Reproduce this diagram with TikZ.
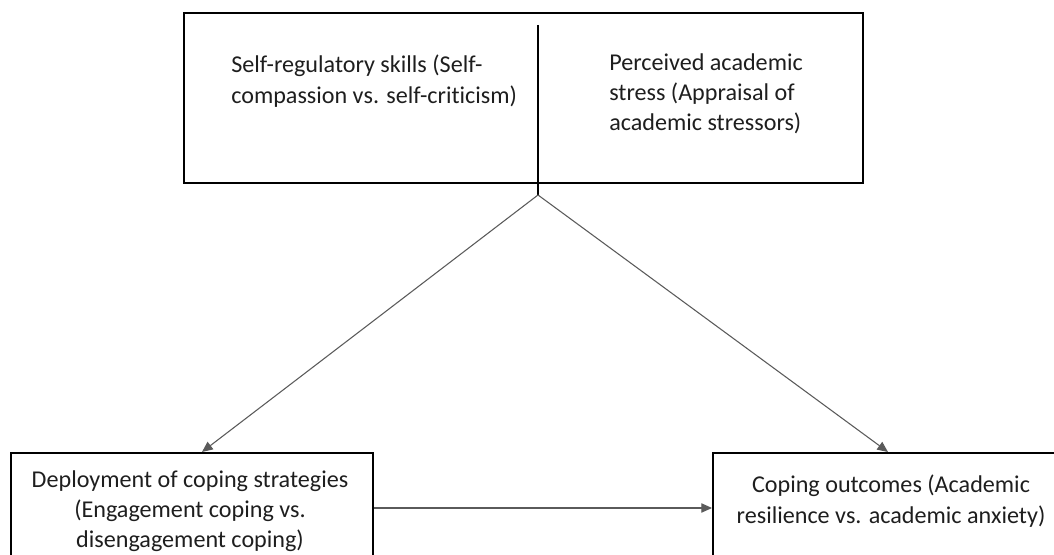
\documentclass[tikz,border=0pt]{standalone}
\usepackage{fontspec}
\setmainfont{Carlito}[Ligatures=NoCommon]
\usetikzlibrary{arrows.meta, positioning, calc}
\definecolor{boxline}{RGB}{0,0,0}
\definecolor{linkgray}{RGB}{90,90,90}
\definecolor{textgray}{RGB}{30,30,30}
\tikzset{
  % framed box (size set per node)
  modelbox/.style={rectangle, draw=boxline, line width=1.5pt, inner sep=0pt},
  boxtext/.style={font=\fontsize{18.1}{22.8}\selectfont, text=textgray, inner sep=0pt},
  linkarrow/.style={-{Triangle[length=8pt, width=7pt]}, line width=0.8pt, color=linkgray}
}

\begin{document}
\begin{tikzpicture}[x=0.75pt, y=-0.75pt]
  \useasboundingbox (0,0) rectangle (1054,555);
  \clip (0,0) rectangle (1054,555);

  % Top: the two predictors share one box
  \node[modelbox, minimum width=509.25pt, minimum height=127.5pt] (factors) at (523.5, 98) {};
  \coordinate (split) at (538, 25);
  \coordinate (apex) at (538, 195);
  \draw[line width=1.5pt, boxline] (split) -- (apex);

  \node[boxtext, anchor=north west, align=left] (selfreg) at (231, 55)
    {Self-regulatory skills (Self-\\compassion vs. self-criticism)};
  \node[boxtext, anchor=north west, align=left] (stress) at (609, 53)
    {Perceived academic\\stress (Appraisal of\\academic stressors)};

  % Bottom row: coping strategies and outcomes (boxes run past the lower edge)
  \node[modelbox, minimum width=271.5pt, minimum height=82.5pt] (dep) at (192, 508) {};
  \node[modelbox, minimum width=286.5pt, minimum height=82.5pt] (outc) at (904, 508) {};

  \node[boxtext, anchor=north, align=center] (deptext) at (190, 470)
    {Deployment of coping strategies\\(Engagement coping vs.\\disengagement coping)};
  \node[boxtext, anchor=north, align=center] (outtext) at (891, 475)
    {Coping outcomes (Academic\\resilience vs. academic anxiety)};

  % --- Paths ---
  \draw[linkarrow] (apex) -- ([xshift=7.5pt]dep.north);
  \draw[linkarrow] (apex) -- ([xshift=-12pt]outc.north);
  \draw[linkarrow] (dep.east) -- (outc.west);
\end{tikzpicture}
\end{document}
